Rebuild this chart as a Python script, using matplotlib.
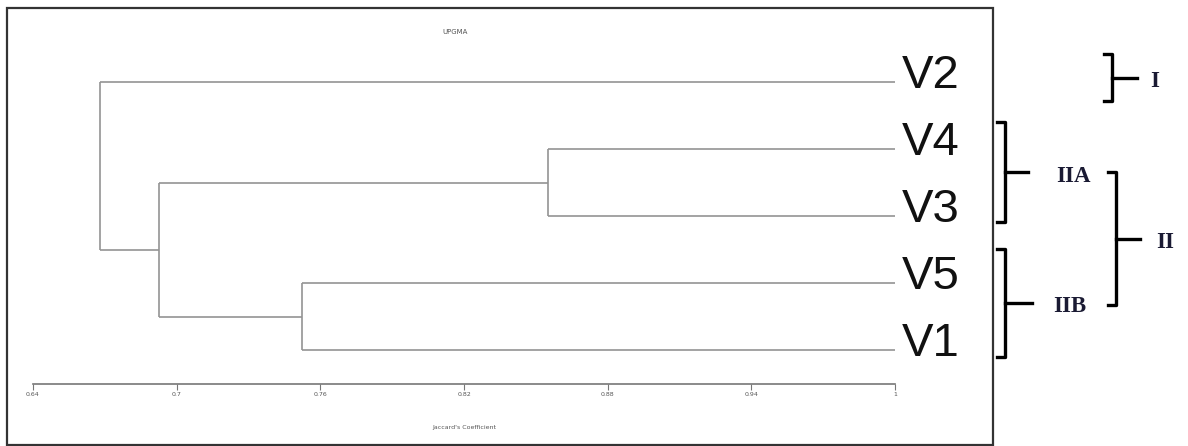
import matplotlib
matplotlib.use("Agg")
import matplotlib.pyplot as plt
from matplotlib.patches import Rectangle

# leaves bottom -> top
leaves = ['V1', 'V5', 'V3', 'V4', 'V2']
# merges: (left child, right child, new name, jaccard height)
merges = [('V4', 'V3', 'IIA', 0.855),
          ('V5', 'V1', 'IIB', 0.7525),
          ('IIA', 'IIB', 'II', 0.6925),
          ('V2', 'II', 'root', 0.668)]
ticks = [0.64, 0.7, 0.76, 0.82, 0.88, 0.94, 1.0]
tick_labels = ['0.64', '0.7', '0.76', '0.82', '0.88', '0.94', '1']

W, H = 1188, 446
fig = plt.figure(figsize=(W / 100, H / 100), dpi=100)

# dendrogram axes (pixel box 33..895 x, 40..384 y)
ax = fig.add_axes([33 / W, (H - 384) / H, (895 - 33) / W, (384 - 40) / H])
ax.set_xlim(0.64, 1.0)
ax.set_ylim(-0.507, 4.627)

pos = {name: (1.0, i) for i, name in enumerate(leaves)}
lc = '#939393'
for a, b, name, h in merges:
    xa, ya = pos[a]
    xb, yb = pos[b]
    ax.plot([xa, h], [ya, ya], color=lc, lw=1.2, solid_capstyle='butt')
    ax.plot([xb, h], [yb, yb], color=lc, lw=1.2, solid_capstyle='butt')
    ax.plot([h, h], [ya, yb], color=lc, lw=1.2, solid_capstyle='butt')
    pos[name] = (h, (ya + yb) / 2)

for i, name in enumerate(leaves):
    ax.annotate(name, (1.0, i), xytext=(7, -6), textcoords='offset pixels',
                ha='left', va='baseline', fontsize=34, family='Liberation Sans',
                color='#111111', annotation_clip=False)

for s in ['top', 'right', 'left']:
    ax.spines[s].set_visible(False)
ax.spines['bottom'].set_color('#777777')
ax.spines['bottom'].set_linewidth(1.2)
ax.set_yticks([])
ax.set_xticks(ticks)
ax.set_xticklabels(tick_labels)
ax.tick_params(axis='x', length=4, width=0.8, color='#777777', labelsize=4.5,
               labelcolor='#555555', pad=2)
ax.set_xlabel("Jaccard's Coefficient", fontsize=4.5, color='#555555', labelpad=20)
ax.set_title('UPGMA', fontsize=5, color='#555555', pad=4, y=1.0)
ax.title.set_position((0.49, 1.0))
ax.patch.set_alpha(0)

# overlay in pixel coords for the frame and group brackets
ov = fig.add_axes([0, 0, 1, 1], zorder=-1)
ov.set_xlim(0, W)
ov.set_ylim(H, 0)
ov.axis('off')
ov.add_patch(Rectangle((7, 8), 986, 437, fill=False, ec='#333333', lw=1.6))

ov2 = fig.add_axes([0, 0, 1, 1])
ov2.set_xlim(0, W)
ov2.set_ylim(H, 0)
ov2.axis('off')
ov2.patch.set_alpha(0)

groups = [('I', 1112, 54, 101, 1137, 1155),
          ('IIA', 1005, 122, 222, 1028, 1073),
          ('IIB', 1005, 249, 357, 1032, 1070),
          ('II', 1116, 172, 305, 1140, 1165)]
for lab, x, y0, y1, xt, xl in groups:
    ov2.plot([x - 8, x, x, x - 8], [y0, y0, y1, y1], color='black', lw=2.4,
             solid_joinstyle='round')
    ym = (y0 + y1) / 2
    ov2.plot([x, xt], [ym, ym], color='black', lw=2.4)
    ov2.text(xl, ym + 4, lab, ha='center', va='center', fontsize=16.5,
             family='Liberation Serif', fontweight='bold', color='#1a1a33')

fig.savefig('out.png', dpi=100)
